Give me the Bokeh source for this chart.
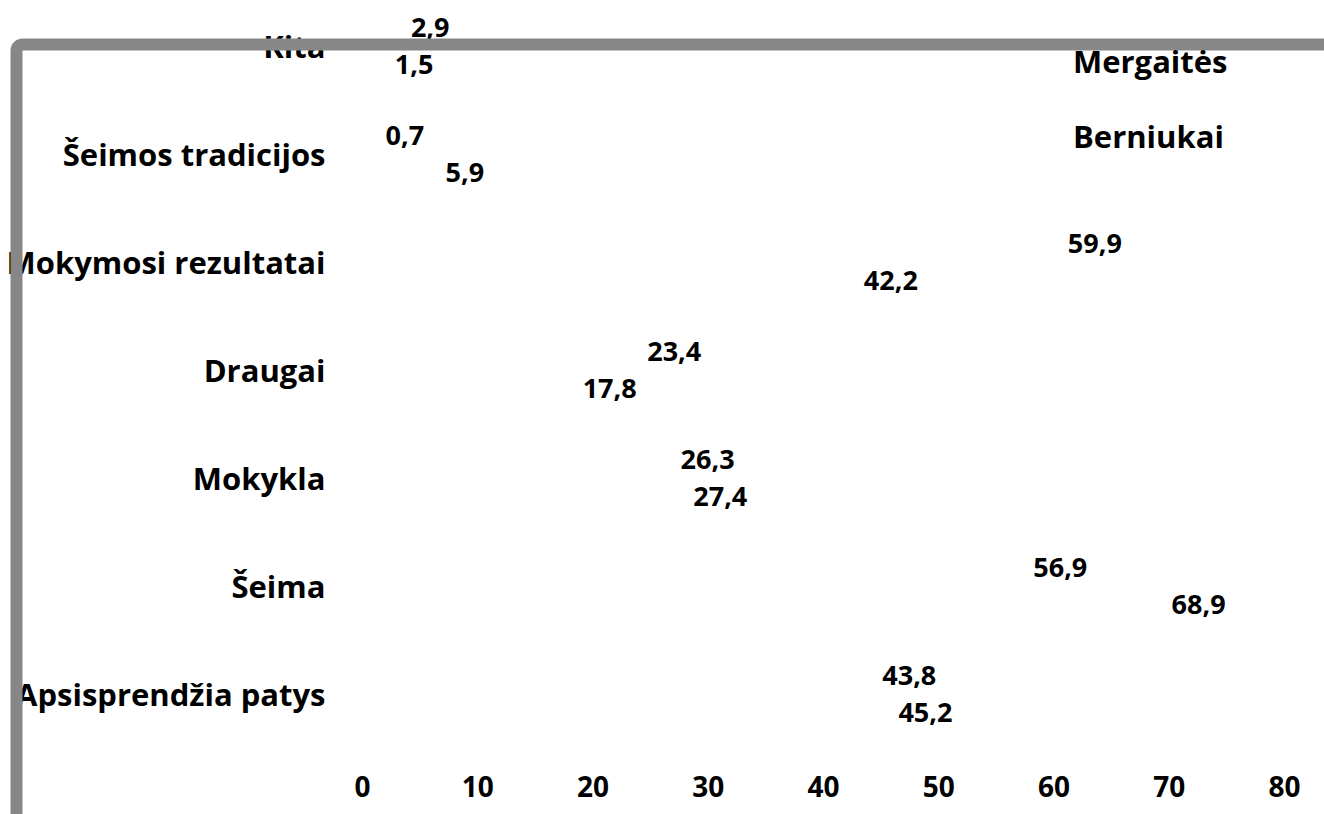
from bokeh.plotting import figure
from bokeh.models import (ColumnDataSource, LabelSet, Label, Range1d, FixedTicker,
                          Legend, LegendItem)
from bokeh.core.properties import value
from bokeh.embed import file_html
from bokeh.resources import INLINE

# ---- data ----
categories = ["Apsisprendžia patys", "Šeima", "Mokykla", "Draugai",
              "Mokymosi rezultatai", "Šeimos tradicijos", "Kita"]
mergaites = [43.8, 56.9, 26.3, 23.4, 59.9, 0.7, 2.9]
berniukai = [45.2, 68.9, 27.4, 17.8, 42.2, 5.9, 1.5]
series_names = ["Mergaitės", "Berniukai"]
x_ticks = [0, 10, 20, 30, 40, 50, 60, 70, 80]

FONT = "Open Sans"
DODGE = 0.171
BAR_H = 0.3

idx = list(range(len(categories)))
src_m = ColumnDataSource(dict(
    y=[i + DODGE for i in idx], v=mergaites,
    t=[f"{x:.1f}".replace(".", ",") for x in mergaites]))
src_b = ColumnDataSource(dict(
    y=[i - DODGE for i in idx], v=berniukai,
    t=[f"{x:.1f}".replace(".", ",") for x in berniukai]))

# the frame spans the whole canvas; axes are pinned inside it
p = figure(width=1324, height=814, output_backend="svg", toolbar_location=None,
           x_range=Range1d(-31.41, 83.47), y_range=Range1d(-1.1157, 6.421),
           min_border=0, min_border_left=0, min_border_right=0,
           min_border_top=0, min_border_bottom=0)
p.outline_line_color = None
p.grid.visible = False
p.background_fill_color = "white"
p.border_fill_color = "white"

r_m = p.hbar(y="y", left=0, right="v", height=BAR_H, source=src_m,
             fill_color="white", line_color=None)
r_b = p.hbar(y="y", left=0, right="v", height=BAR_H, source=src_b,
             fill_color="white", line_color=None)

for src in (src_m, src_b):
    p.add_layout(LabelSet(x="v", y="y", text="t", source=src, x_offset=15,
                          text_align="left", text_baseline="middle",
                          text_font=value(FONT), text_font_style="bold",
                          text_font_size="27px", text_color="black"))

# axes
xa = p.xaxis[0]
xa.fixed_location = -0.486
xa.ticker = FixedTicker(ticks=x_ticks)
xa.axis_line_color = None
xa.major_tick_line_color = None
xa.minor_tick_line_color = None
xa.major_tick_in = 0
xa.major_tick_out = 0
xa.minor_tick_out = 0
xa.major_label_standoff = 30
xa.major_label_text_font = FONT
xa.major_label_text_font_style = "bold"
xa.major_label_text_font_size = "28px"
xa.major_label_text_color = "black"

ya = p.yaxis[0]
ya.fixed_location = -1.909
ya.ticker = FixedTicker(ticks=idx)
ya.major_label_overrides = {i: c for i, c in zip(idx, categories)}
ya.axis_line_color = None
ya.major_tick_line_color = None
ya.minor_tick_line_color = None
ya.major_tick_in = 0
ya.major_tick_out = 0
ya.minor_tick_out = 0
ya.major_label_standoff = 15
ya.major_label_text_font = FONT
ya.major_label_text_font_style = "bold"
ya.major_label_text_font_size = "31px"
ya.major_label_text_color = "black"

legend = Legend(items=[LegendItem(label=series_names[0], renderers=[r_m]),
                       LegendItem(label=series_names[1], renderers=[r_b])],
                location=(1072, 657), orientation="vertical",
                padding=0, margin=0, spacing=33, glyph_width=1,
                glyph_height=8, label_height=41, label_standoff=0,
                border_line_color=None, background_fill_alpha=0,
                label_text_font=FONT, label_text_font_style="bold",
                label_text_font_size="31px", label_text_color="black")
p.add_layout(legend)

# chart-area border (top and left visible, rest beyond the canvas), drawn last
border = Label(x=16, y=44, x_units="canvas", y_units="canvas", text=" ",
               text_font_size="1px", text_align="left", text_baseline="top",
               anchor="top_left",
               padding=dict(left=0, right=3000, top=0, bottom=3000),
               border_line_color="#878787", border_line_width=12,
               border_line_alpha=1.0, border_radius=6,
               background_fill_color=None)
p.add_layout(border)

open("out.html", "w").write(file_html(p, INLINE))
